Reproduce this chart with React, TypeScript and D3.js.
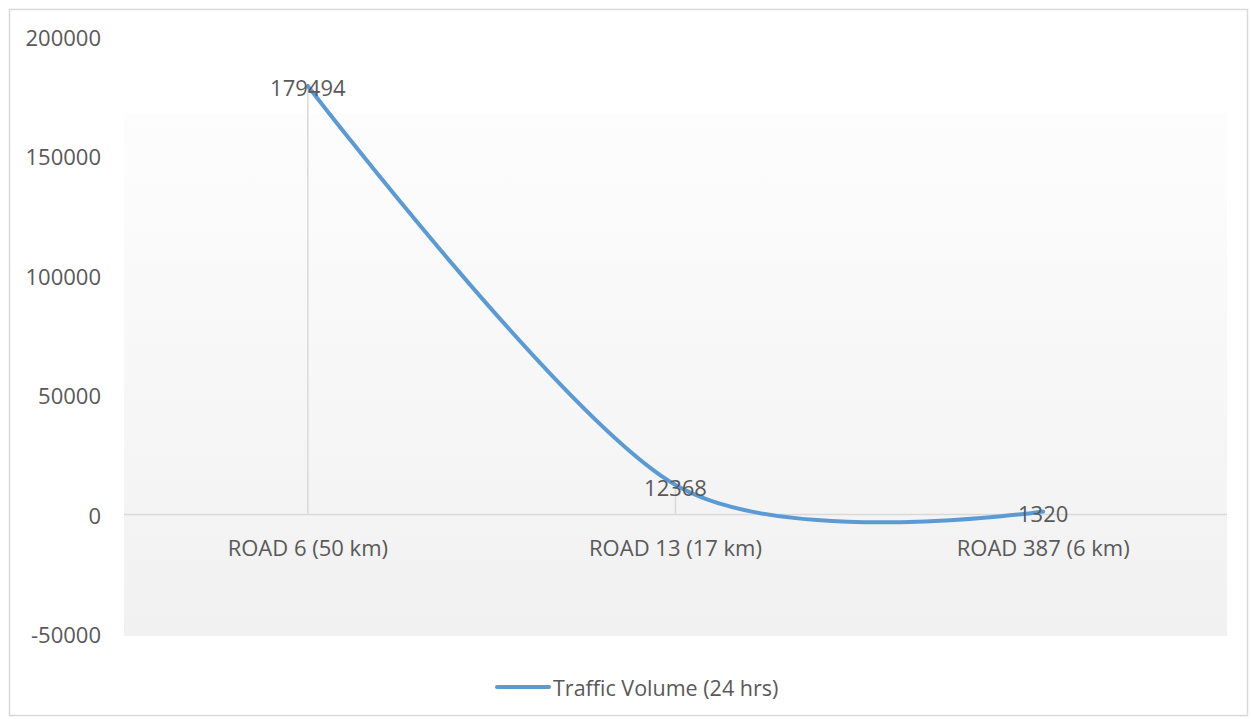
import React from "react";
import * as d3 from "d3";

const categories = ["ROAD 6 (50 km)", "ROAD 13 (17 km)", "ROAD 387 (6 km)"];
const values = [179494, 12368, 1320];
const yTicks = [-50000, 0, 50000, 100000, 150000, 200000];
const seriesName = "Traffic Volume (24 hrs)";

const W = 1252;
const H = 719;
const TEXT = "#595959";
const FONT = "'Open Sans', 'Noto Sans', sans-serif";
const FS = 22;

export default function App() {
  const x0 = 124, x1 = 1227;
  const x = d3.scaleBand<string>().domain(categories).range([x0, x1]);
  const cx = (c: string) => (x(c) as number) + x.bandwidth() / 2;
  const y = d3.scaleLinear().domain([-50000, 200000]).range([634, 37]);

  const pts: [number, number][] = categories.map((c, i) => [cx(c), y(values[i])]);
  const line = d3.line().curve(d3.curveCardinal.tension(0.1))(pts) as string;

  return (
    <svg width={W} height={H} style={{ position: "absolute", left: 0, top: 0 }}>
      <defs>
        <linearGradient id="bg" x1="0" y1="0" x2="0" y2="1">
          <stop offset="0" stopColor="#fdfdfd" />
          <stop offset="1" stopColor="#f1f1f1" />
        </linearGradient>
      </defs>
      <rect x={0} y={0} width={W} height={H} fill="#fff" />
      <rect x={9.5} y={9.5} width={1238} height={706} fill="#fff" stroke="#d9d9d9" strokeWidth={1.5} />
      <rect x={x0} y={113} width={x1 - x0} height={636 - 113} fill="url(#bg)" />
      {yTicks.map((t) => (
        <text key={t} x={101} y={y(t)} textAnchor="end" dominantBaseline="central"
          fontFamily={FONT} fontSize={FS} fill={TEXT}>{t}</text>
      ))}
      <line x1={x0} x2={x1} y1={y(0)} y2={y(0)} stroke="#d9d9d9" strokeWidth={1.5} />
      {categories.map((c, i) => (
        <line key={"d" + c} x1={cx(c)} x2={cx(c)} y1={y(0)} y2={y(values[i])} stroke="#d9d9d9" strokeWidth={1.5} />
      ))}
      {categories.map((c) => (
        <text key={c} x={cx(c)} y={547} textAnchor="middle" dominantBaseline="central"
          fontFamily={FONT} fontSize={FS} fill={TEXT}>{c}</text>
      ))}
      <path d={line} fill="none" stroke="#5b9bd5" strokeWidth={4} strokeLinecap="round" />
      {categories.map((c, i) => (
        <text key={"l" + c} x={cx(c)} y={y(values[i]) + 1.5} textAnchor="middle" dominantBaseline="central"
          fontFamily={FONT} fontSize={FS} fill={TEXT}>{values[i]}</text>
      ))}
      <line x1={497} x2={549} y1={687} y2={687} stroke="#5b9bd5" strokeWidth={4} strokeLinecap="round" />
      <text x={553} y={687} dominantBaseline="central" fontFamily={FONT} fontSize={21.5} fill={TEXT}>{seriesName}</text>
    </svg>
  );
}
